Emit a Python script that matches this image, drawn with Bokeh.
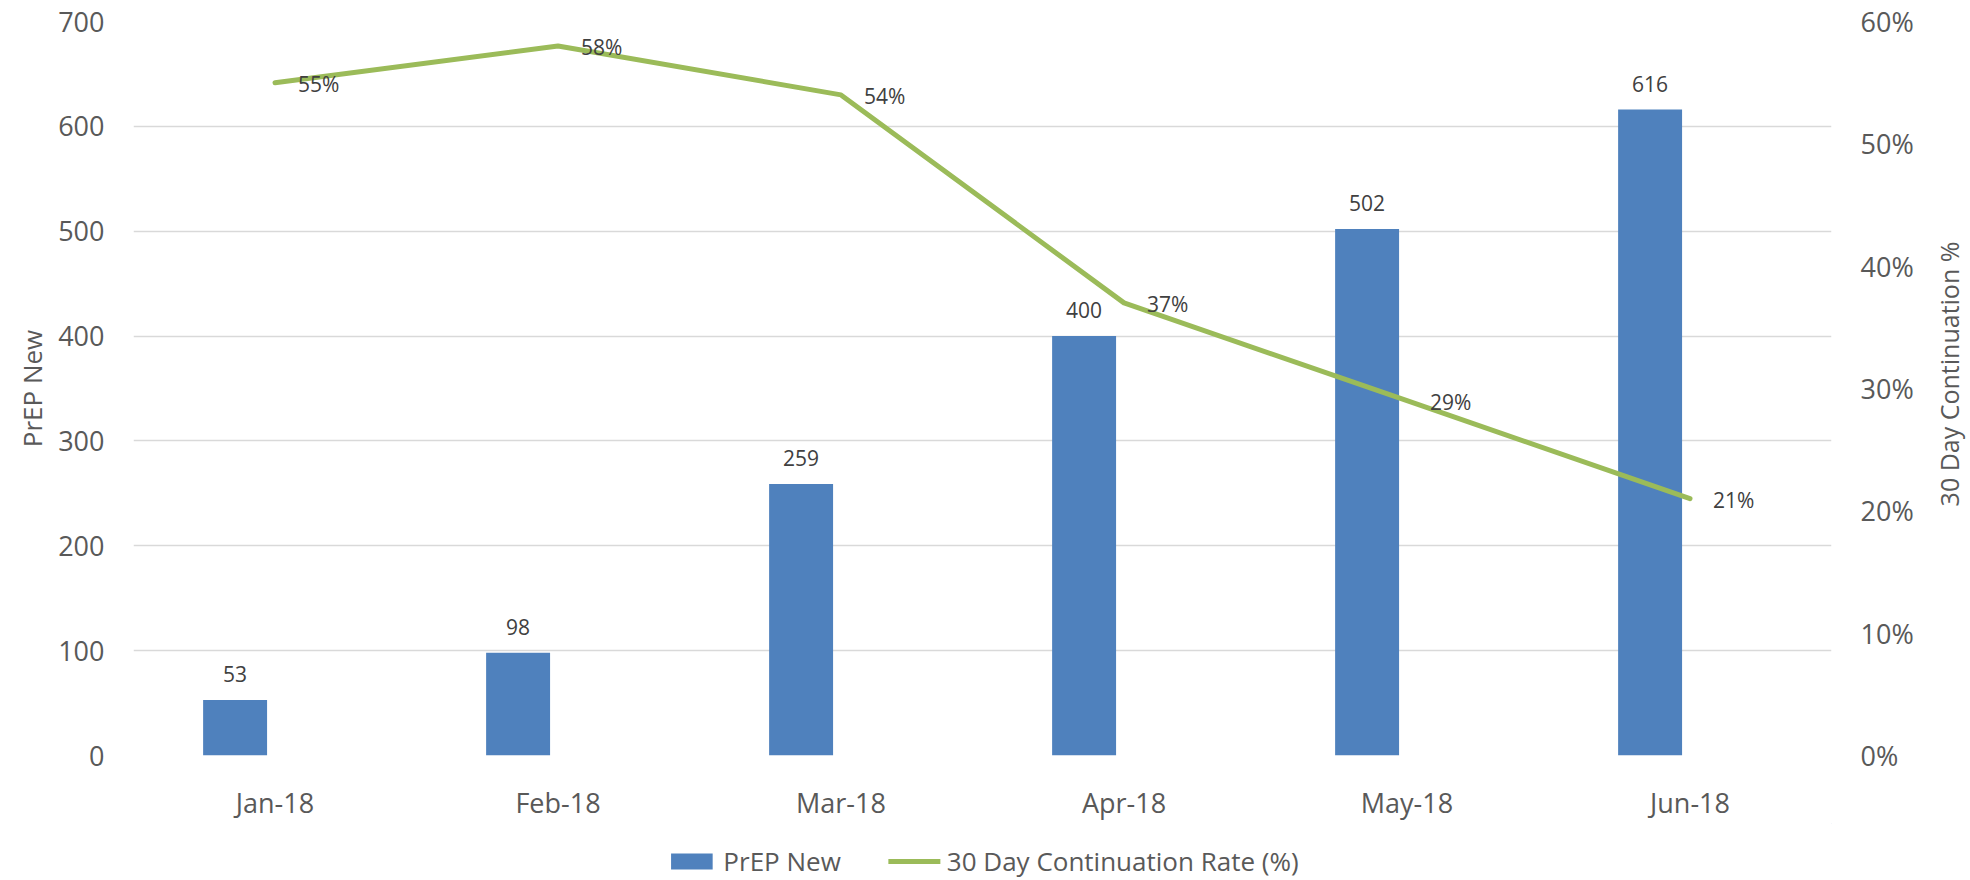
import math
from bokeh.plotting import figure
from bokeh.models import (FactorRange, Range1d, LinearAxis, FixedTicker, NumeralTickFormatter,
                          ColumnDataSource, LabelSet, Label, Legend, LegendItem)
from bokeh.core.properties import value
from bokeh.layouts import column, row
from bokeh.transform import dodge
from bokeh.embed import file_html
from bokeh.resources import INLINE

# ---- data ----
months = ["Jan-18", "Feb-18", "Mar-18", "Apr-18", "May-18", "Jun-18"]
prep_new = [53, 98, 259, 400, 502, 616]
continuation = [0.55, 0.58, 0.54, 0.37, 0.29, 0.21]
continuation_labels = ["55%", "58%", "54%", "37%", "29%", "21%"]
left_ticks = [0, 100, 200, 300, 400, 500, 600, 700]
right_ticks = [0.0, 0.1, 0.2, 0.3, 0.4, 0.5, 0.6]
left_title = "PrEP New"
right_title = "30 Day Continuation %"
bar_series = "PrEP New"
line_series = "30 Day Continuation Rate (%)"

# ---- style ----
FONT = "Open Sans"
BAR_COLOR = "#4F81BD"
LINE_COLOR = "#9BBB59"
GRID_COLOR = "#D9D9D9"
TICK_COLOR = "#595959"
LABEL_COLOR = "#404040"

LEFT, FRAME_W, RIGHT = 133, 1698, 92
TOP, FRAME_H, BOTTOM = 21, 737, 65
W = LEFT + FRAME_W + RIGHT
H = TOP + FRAME_H + BOTTOM

p = figure(x_range=FactorRange(factors=months, range_padding=0),
           y_range=Range1d(0, 700),
           width=W, height=H, output_backend="svg", toolbar_location=None,
           min_border_left=LEFT, min_border_right=RIGHT,
           min_border_top=TOP, min_border_bottom=BOTTOM)
p.outline_line_color = None
p.background_fill_color = "white"
p.border_fill_color = "white"

p.extra_y_ranges = {"pct": Range1d(0, 0.6)}

src = ColumnDataSource(dict(month=months, prep=prep_new, pct=continuation,
                            plab=[str(v) for v in prep_new], clab=continuation_labels))

p.vbar(x=dodge("month", -0.141, range=p.x_range), top="prep", width=0.226, source=src,
       fill_color=BAR_COLOR, line_color=None)
p.line(x="month", y="pct", source=src, y_range_name="pct", line_color=LINE_COLOR,
       line_width=5, line_cap="round", line_join="round")

# bar labels
p.add_layout(LabelSet(x=dodge("month", -0.141, range=p.x_range), y="prep", text="plab", source=src,
                      text_align="center", text_baseline="alphabetic", y_offset=18,
                      text_font=value(FONT), text_font_size="21px", text_color=LABEL_COLOR))
# line labels (right of each point)
p.add_layout(LabelSet(x="month", y="pct", y_range_name="pct", text="clab", source=src,
                      text_align="left", text_baseline="middle", x_offset=23, y_offset=-1,
                      text_font=value(FONT), text_font_size="21px", text_color=LABEL_COLOR))

# grid
p.xgrid.grid_line_color = None
p.ygrid.grid_line_color = GRID_COLOR
p.ygrid.grid_line_width = 1.3
p.ygrid.ticker = FixedTicker(ticks=left_ticks)

def style_axis(ax):
    ax.axis_line_color = None
    ax.major_tick_line_color = None
    ax.minor_tick_line_color = None
    ax.major_tick_out = 0
    ax.major_tick_in = 0
    ax.major_label_text_font = FONT
    ax.major_label_text_font_size = "27px"
    ax.major_label_text_color = TICK_COLOR
    ax.axis_label_text_font = FONT
    ax.axis_label_text_font_size = "26px"
    ax.axis_label_text_font_style = "normal"
    ax.axis_label_text_color = TICK_COLOR

# left axis
yl = p.yaxis[0]
style_axis(yl)
yl.ticker = FixedTicker(ticks=left_ticks)
yl.axis_label = left_title
yl.major_label_standoff = 29
yl.axis_label_standoff = 5

# bottom axis
xb = p.xaxis[0]
style_axis(xb)
xb.major_label_standoff = 28

# right axis (ticks only; its title is drawn in the narrow panel to the right)
yr = LinearAxis(y_range_name="pct", ticker=FixedTicker(ticks=right_ticks),
                formatter=NumeralTickFormatter(format="0%"))
style_axis(yr)
yr.major_label_standoff = 29
p.add_layout(yr, "right")

# ---- right-axis title panel ----
TW = 44
t = figure(width=TW, height=H, x_range=Range1d(0, 1), y_range=Range1d(0, H),
           output_backend="svg", toolbar_location=None,
           x_axis_location=None, y_axis_location=None,
           min_border_left=0, min_border_right=0, min_border_top=0, min_border_bottom=0)
t.outline_line_color = None
t.grid.visible = False
t.add_layout(Label(x=0.58, y=H - (TOP + FRAME_H / 2) + 16, text=right_title, angle=math.pi / 2,
                   text_align="center", text_baseline="middle",
                   text_font=FONT, text_font_size="25px", text_color=TICK_COLOR))

# ---- legend panel (swatch renderers sit outside its visible range) ----
LH = 56
lf = figure(width=W, height=LH, output_backend="svg", toolbar_location=None,
            x_range=Range1d(0, 1), y_range=Range1d(0, 1),
            x_axis_location=None, y_axis_location=None,
            min_border_left=LEFT, min_border_right=RIGHT, min_border_top=0, min_border_bottom=0)
lf.outline_line_color = None
lf.grid.visible = False
r_bar = lf.vbar(x=[5], top=[6], bottom=[5], width=1, fill_color=BAR_COLOR, line_color=None)
r_line = lf.line(x=[5, 6], y=[5, 5], line_color=LINE_COLOR, line_width=5, line_cap="round")
legend = Legend(items=[LegendItem(label=bar_series, renderers=[r_bar]),
                       LegendItem(label=line_series, renderers=[r_line])],
                orientation="horizontal", location="bottom_center",
                label_text_font=FONT, label_text_font_size="26px", label_text_color=TICK_COLOR,
                glyph_width=52, glyph_height=20, label_standoff=6, spacing=48,
                padding=0, margin=0, border_line_color=None, background_fill_alpha=0)
lf.add_layout(legend, "center")

layout = row(column(p, lf), t)
open("out.html", "w").write(file_html(layout, INLINE))
